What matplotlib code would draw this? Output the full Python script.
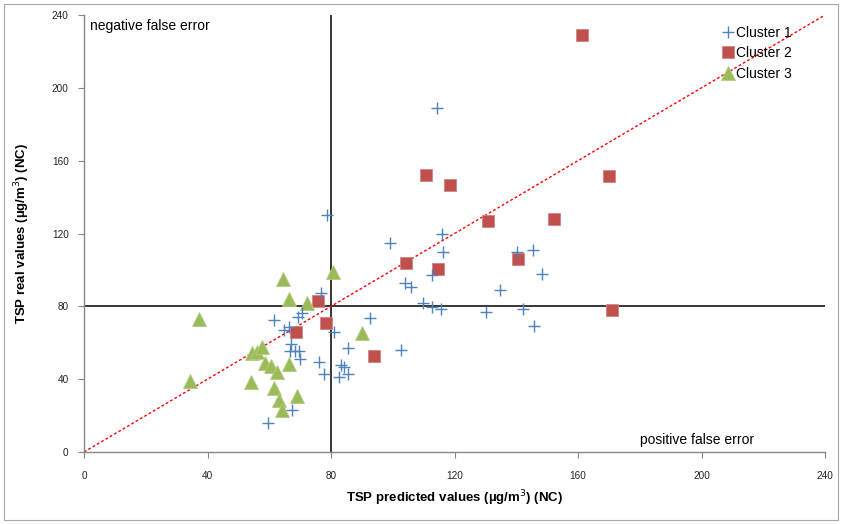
import matplotlib
matplotlib.use("Agg")
import matplotlib.pyplot as plt
from matplotlib.patches import Rectangle

# ---- data ----
c1_x = [78.6, 99.1, 115.9, 116.3, 112.7, 104.0, 105.9, 109.9, 112.8, 115.7,
        114.4, 145.3, 140.1, 148.4, 134.7, 130.2, 142.2, 145.7, 76.9, 70.5,
        69.4, 61.7, 64.8, 66.4, 81.1, 92.6, 67.0, 66.7, 68.3, 69.6,
        69.8, 85.4, 102.6, 76.2, 83.3, 84.1, 77.7, 82.6, 85.5, 67.5, 59.7]
c1_y = [129.9, 114.9, 120.0, 109.7, 97.1, 92.6, 90.5, 81.6, 79.4, 78.8,
        189.1, 110.7, 109.9, 97.5, 88.9, 76.7, 78.8, 69.3, 87.1, 76.1,
        74.2, 72.3, 66.9, 68.5, 65.7, 73.8, 59.3, 55.4, 55.4, 55.4,
        51.0, 56.9, 55.8, 49.6, 48.0, 46.8, 42.8, 41.0, 42.8, 22.9, 16.1]

c2_x = [161.2, 110.8, 118.6, 169.9, 130.9, 152.3, 104.2, 114.8, 140.5, 171.1,
        75.8, 78.5, 68.6, 93.9]
c2_y = [229.0, 152.0, 146.9, 151.4, 126.9, 128.0, 103.9, 100.4, 105.9, 77.9,
        83.2, 70.9, 65.7, 52.5]

c3_x = [37.2, 34.4, 54.1, 54.4, 56.1, 57.7, 58.6, 60.5, 62.6, 66.3,
        61.5, 63.3, 69.1, 64.1, 66.5, 64.6, 72.3, 80.7, 89.9]
c3_y = [73.0, 39.1, 38.4, 54.2, 55.0, 57.4, 49.0, 47.0, 43.9, 48.3,
        35.1, 28.7, 30.6, 22.9, 84.3, 95.1, 81.6, 98.9, 65.5]

series_names = ["Cluster 1", "Cluster 2", "Cluster 3"]
ticks = [0, 40, 80, 120, 160, 200, 240]
threshold = 80
axis_max = 240

FONT = "Liberation Sans"

# ---- figure ----
fig = plt.figure(figsize=(8.42, 5.24), dpi=100)
fig.patches.append(Rectangle((4/842, 4/524), 834/842, 516/524, transform=fig.transFigure,
                             fill=False, edgecolor="#A6A6A6", linewidth=0.8))
ax = fig.add_axes([84/842, (524-452)/524, (825-84)/842, (452-15)/524])

ax.set_xlim(0, axis_max)
ax.set_ylim(0, axis_max)
ax.set_xticks(ticks)
ax.set_yticks(ticks)
ax.set_xticklabels([str(t) for t in ticks], fontsize=7.2, family=FONT, color="#222222")
ax.set_yticklabels([str(t) for t in ticks], fontsize=7.2, family=FONT, color="#222222")
ax.tick_params(axis="both", direction="out", length=4, width=0.8, color="#868686")
ax.tick_params(axis="x", pad=10)
ax.tick_params(axis="y", pad=7)
for s in ["top", "right"]:
    ax.spines[s].set_visible(False)
for s in ["left", "bottom"]:
    ax.spines[s].set_color("#868686")
    ax.spines[s].set_linewidth(1.0)

# reference lines
ax.axhline(threshold, color="black", lw=1.1, zorder=2)
ax.axvline(threshold, color="black", lw=1.1, zorder=2)
ax.plot([0, axis_max], [0, axis_max], color="#FF0000", lw=1.0,
        linestyle=(0, (2, 1.6)), zorder=2)

# series
ax.plot(c1_x, c1_y, linestyle="none", marker="+", markersize=9, mew=1.0,
        color="#4F81BD", label=series_names[0], zorder=4)
ax.plot(c2_x, c2_y, linestyle="none", marker="s", markersize=8.5, mew=0.6,
        color="#C0504D", markeredgecolor="#D58583", label=series_names[1], zorder=3)
ax.plot(c3_x, c3_y, linestyle="none", marker="^", markersize=9.5, mew=0.6,
        color="#9BBB59", markeredgecolor="#B4CC85", label=series_names[2], zorder=3)

leg = ax.legend(loc="upper left", bbox_to_anchor=((722-84)/741, (452-26)/437),
                frameon=False, handlelength=0.8, handletextpad=0.2,
                labelspacing=0.45, borderpad=0, borderaxespad=0,
                prop={"family": FONT, "size": 10})

ax.text(0.008, 0.975, "negative false error", transform=ax.transAxes,
        ha="left", va="center", fontsize=10, family=FONT)
ax.text(0.904, 0.027, "positive false error", transform=ax.transAxes,
        ha="right", va="center", fontsize=10, family=FONT)

ax.set_xlabel("TSP predicted values (µg/m$^3$) (NC)", fontsize=9.5,
              family=FONT, fontweight="bold", labelpad=5)
ax.set_ylabel("TSP real values (µg/m$^3$) (NC)", fontsize=9.5,
              family=FONT, fontweight="bold", labelpad=14)

fig.savefig("out.png", dpi=100)
